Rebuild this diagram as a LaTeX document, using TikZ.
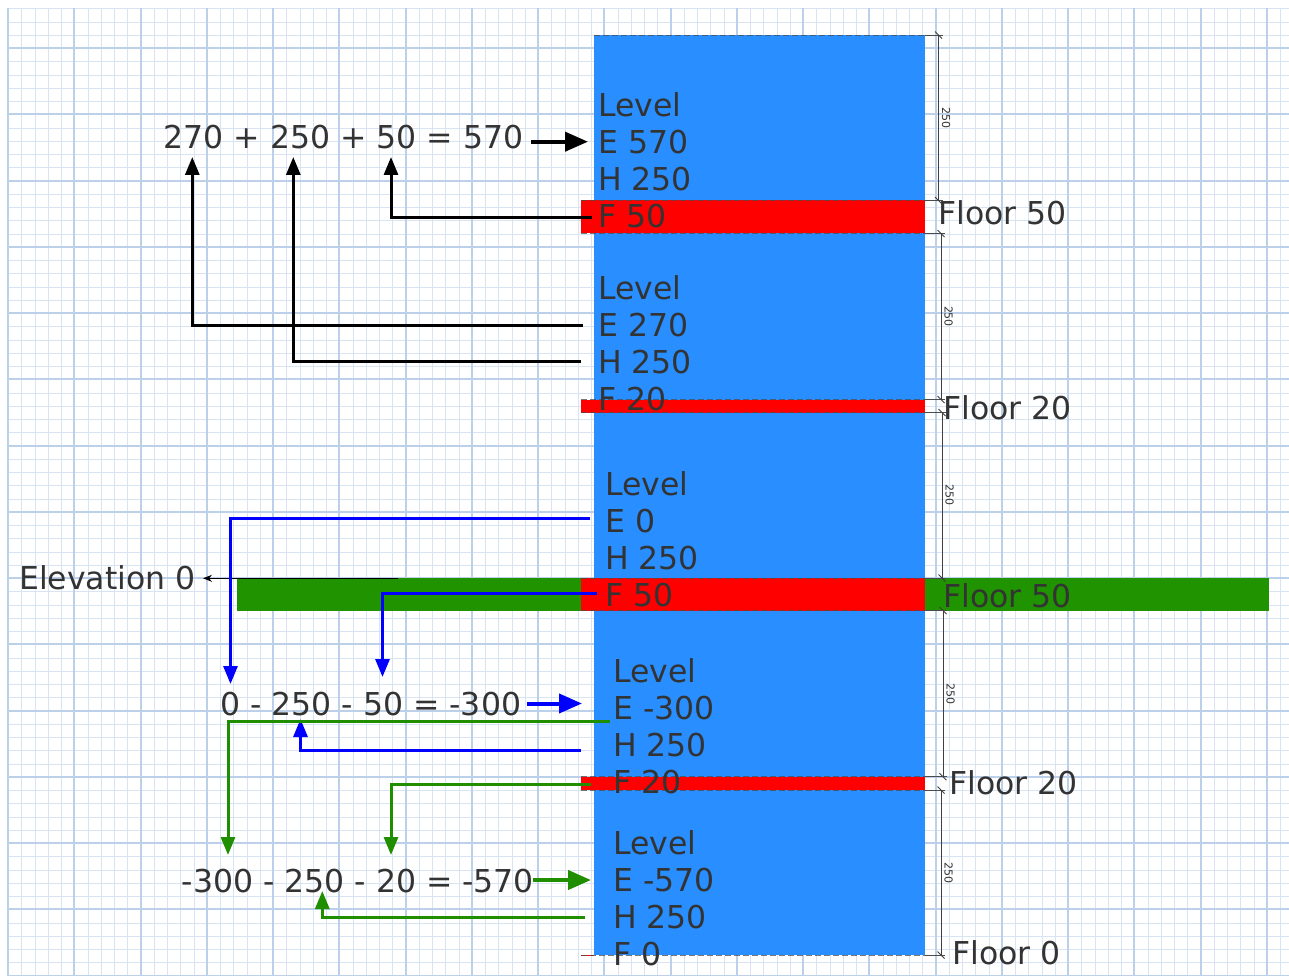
\documentclass[tikz,border=0pt]{standalone}
\usepackage{fontspec}
\setmainfont{DejaVu Sans}
\usetikzlibrary{arrows.meta}
\definecolor{colblue}{RGB}{41,142,255}
\definecolor{bandred}{RGB}{255,0,0}
\definecolor{bandgreen}{RGB}{31,148,0}
\definecolor{txt}{RGB}{51,51,51}
\definecolor{gridminor}{RGB}{216,228,242}
\definecolor{gridmajor}{RGB}{188,209,233}
\definecolor{arrblue}{RGB}{0,0,255}
\definecolor{arrgreen}{RGB}{31,143,0}
\begin{document}
\begin{tikzpicture}[x=1pt,y=-1pt,
  lbl/.style={anchor=west, inner sep=0pt, text=txt, font=\fontsize{31.5}{37}\selectfont, text height=23pt, text depth=0pt},
  dimlbl/.style={inner sep=0pt, text=txt, font=\fontsize{11}{13}\selectfont, rotate=-90},
  conn/.style={line width=3pt, -{Triangle[length=18pt,width=14pt]}},
  thickconn/.style={line width=4pt, -{Triangle[length=23pt,width=19pt]}},
  dashln/.style={draw=black!70, opacity=0.75, line width=0.8pt, dash pattern=on 6pt off 3pt},
  extln/.style={draw=black!70, line width=0.8pt},
  dimln/.style={draw=black!75, line width=0.9pt}]
\useasboundingbox (0,0) rectangle (1289,976);
\fill[white] (0,0) rectangle (1289,976);
% grid
\foreach \i in {0,...,96}{\pgfmathsetmacro\gx{round(8+\i*13.25)+0.5}\draw[gridminor, line width=1pt] (\gx,8) -- (\gx,976);}
\foreach \j in {0,...,73}{\pgfmathsetmacro\gy{round(8.25+\j*13.25)+0.5}\draw[gridminor, line width=1pt] (8,\gy) -- (1289,\gy);}
\foreach \k in {0,...,19}{\pgfmathsetmacro\gx{round(8+\k*66.25)}\draw[gridmajor, line width=2pt] (\gx,8) -- (\gx,976);}
\foreach \k in {0,...,14}{\pgfmathsetmacro\gy{round(48+\k*66.25)}\draw[gridmajor, line width=2pt] (8,\gy) -- (1289,\gy);}
% column and floors
\fill[colblue] (594,35) rectangle (925,955);
\fill[bandred] (581,200.5) rectangle (925,233.5);
\fill[bandred] (581,399.5) rectangle (925,412.5);
\fill[bandgreen] (237,578) rectangle (1269,610.5);
\fill[bandred] (581,578) rectangle (925,610.5);
\fill[bandred] (581,776.7) rectangle (925,790);
\draw[bandred, line width=1pt] (581,955) -- (594,955);
% level boundaries
\draw[dashln] (594,35) -- (925,35);
\foreach \yy in {200.5,233.5,399.5,412.5,578,610.5,776.7,790,955} \draw[dashln] (581,\yy) -- (925,\yy);
\foreach \yy/\xe in {35/943,200.5/943,233.5/945,399.5/945,412.5/946,578/946,610.5/947,776.7/947,790/945,955/945} \draw[extln] (925,\yy) -- (\xe,\yy);
% dimensions
\foreach \n/\xx/\ya/\yb/\xl in {d1/938.5/35/200.5/946, d2/941/233.5/399.5/948.5, d3/942/412.5/578/949.5, d4/943/610.5/776.7/950.5, d5/941/790/955/948.5}{
  \draw[dimln] (\xx,\ya) -- (\xx,\yb);
  \draw[dimln] (\xx-3.5,\ya-3.5) -- (\xx+3.5,\ya+3.5);
  \draw[dimln] (\xx-3.5,\yb-3.5) -- (\xx+3.5,\yb+3.5);
  \node[dimlbl] (\n) at (\xl,{(\ya+\yb)/2}) {250};
}
% level texts
\foreach \p/\xx/\ya/\e/\f in {a/598/105/570/50, b/598/288/270/20, c/605/484/0/50, d/613/671/-300/20, e/613/843/-570/0}{
  \node[lbl] (\p L) at (\xx,\ya) {Level};
  \node[lbl] (\p E) at (\xx,\ya+37) {E \e};
  \node[lbl] (\p H) at (\xx,\ya+74) {H 250};
  \node[lbl] (\p F) at (\xx,\ya+111) {F \f};
}
% floor labels
\node[lbl] (fl1) at (938,213.5) {Floor 50};
\node[lbl] (fl2) at (943,408) {Floor 20};
\node[lbl] (fl3) at (943,596) {Floor 50};
\node[lbl] (fl4) at (949,783) {Floor 20};
\node[lbl] (fl5) at (952,953) {Floor 0};
\node[lbl] (elev) at (19,577.5) {Elevation 0};
% equations
\node[lbl] (eq1) at (163.5,137.5) {270 + 250 + 50 = 570};
\node[lbl] (eq2) at (220,704) {0 - 250 - 50 = -300};
\node[lbl] (eq3) at (181.5,881) {-300 - 250 - 20 = -570};
% connector end points
\coordinate (s1) at (592,217.5);  \coordinate (t1) at (391,157);
\coordinate (s2) at (583,325.5);  \coordinate (t2) at (192.3,157);
\coordinate (s3) at (581,361.5);  \coordinate (t3) at (293.3,157);
\coordinate (s4) at (531,141.7);  \coordinate (t4) at (588,141.7);
\coordinate (s5) at (590,518.5);  \coordinate (t5) at (230.5,684);
\coordinate (s6) at (597,593);    \coordinate (t6) at (382.5,677);
\coordinate (s7) at (527,703.5);  \coordinate (t7) at (582,703.5);
\coordinate (s8) at (581,750.5);  \coordinate (t8) at (300.5,719);
\coordinate (s9) at (610,721);    \coordinate (t9) at (228,855);
\coordinate (s10) at (591,784.3); \coordinate (t10) at (391,855);
\coordinate (s11) at (533,880);   \coordinate (t11) at (591,880);
\coordinate (s12) at (585,917.3); \coordinate (t12) at (322.3,891);
\coordinate (s13) at (398,578.3); \coordinate (t13) at (203,578.3);
% black
\draw[conn, black] (s1) -| (t1);
\draw[conn, black] (s2) -| (t2);
\draw[conn, black] (s3) -| (t3);
\draw[thickconn, black] (s4) -- (t4);
\draw[black, line width=1.2pt, -{Stealth[length=9pt,width=7pt]}] (s13) -- (t13);
% blue
\draw[conn, arrblue] (s5) -| (t5);
\draw[conn, arrblue] (s6) -| (t6);
\draw[thickconn, arrblue] (s7) -- (t7);
\draw[conn, arrblue] (s8) -| (t8);
% green
\draw[conn, arrgreen] (s9) -| (t9);
\draw[conn, arrgreen] (s10) -| (t10);
\draw[thickconn, arrgreen] (s11) -- (t11);
\draw[conn, arrgreen] (s12) -| (t12);
\end{tikzpicture}
\end{document}
